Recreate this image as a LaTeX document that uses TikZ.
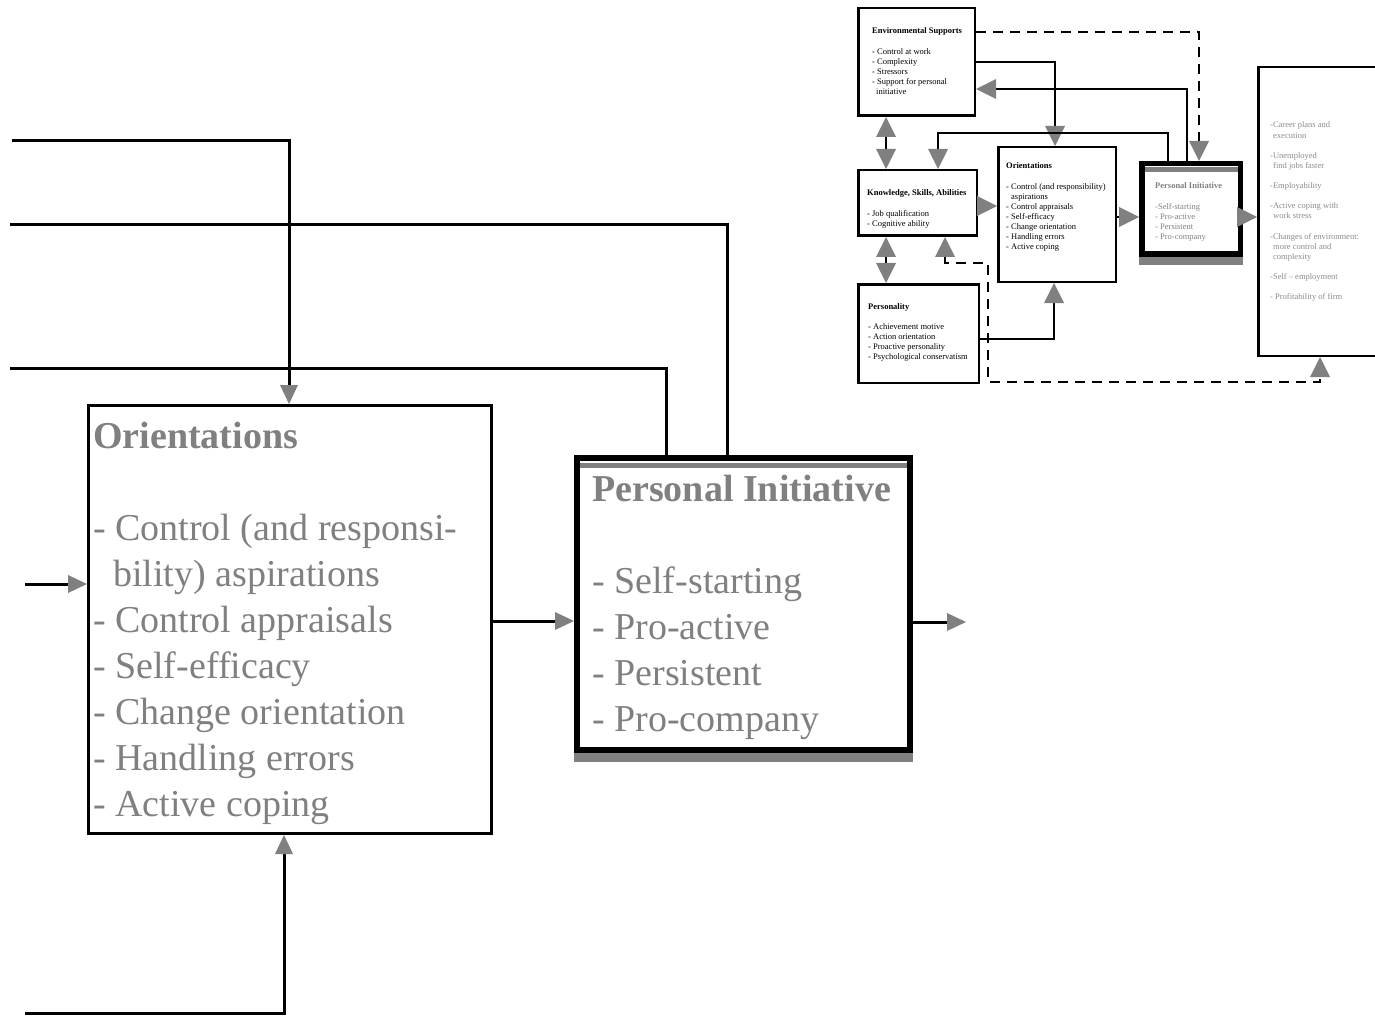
\documentclass[tikz,border=0pt]{standalone}
\usepackage{fontspec}
\setmainfont{Liberation Serif}
\usetikzlibrary{arrows.meta}

\definecolor{tipgray}{RGB}{128,128,128}
\definecolor{txtgray}{RGB}{128,128,128}
\definecolor{lightgray}{RGB}{140,140,140}

% text blocks are placed by the baseline of their last line
\tikzset{
  box/.style={draw=black, inner sep=0pt, anchor=north west},
  bigbox/.style={box, line width=3pt},
  pibox/.style={box, line width=6pt},
  smallbox/.style={box, line width=2.5pt},
  smallpibox/.style={box, line width=5.5pt},
  txt/.style={anchor=base west, align=left, inner sep=0pt},
  bigtxt/.style={txt, text=txtgray, font=\fontsize{38}{46}\selectfont},
  smalltxt/.style={txt, font=\fontsize{8.5}{10.1}\selectfont},
  bigtip/.tip={Triangle[length=19pt, width=18pt, line width=0pt, color=tipgray]},
  smalltip/.tip={Triangle[length=20pt, width=20pt, line width=0pt, color=tipgray]},
  bline/.style={line width=3pt},
  bconn/.style={bline, -bigtip},
  sline/.style={line width=2.5pt},
  sconn/.style={sline, -smalltip},
  sboth/.style={sline, smalltip-smalltip},
  sdash/.style={sline, dash pattern=on 10pt off 7pt},
}

\begin{document}
\begin{tikzpicture}[x=1pt, y=-1pt]
\useasboundingbox (0,0) rectangle (1375,1016);
\clip (0,0) rectangle (1375,1016);
\fill[white] (0,0) rectangle (1375,1016);

% ---------- enlarged part: Orientations and Personal Initiative ----------
\node[bigbox, minimum width=403pt, minimum height=428pt] (ori) at (87,404) {};
\node[bigtxt] (oritxt) at (93,816) {%
  \textbf{Orientations}\\[46pt]
  - Control (and responsi-\\
  \hspace*{20pt}bility) aspirations\\
  - Control appraisals\\
  - Self-efficacy\\
  - Change orientation\\
  - Handling errors\\
  - Active coping};

% shadowed frame of Personal Initiative
\fill[tipgray] (574,750) rectangle (913,762);
\node[pibox, fill=white, minimum width=333pt, minimum height=292pt] (pib) at (574,455) {};
\draw[tipgray, line width=5pt] (580,465.5) -- (907,465.5);
\node[bigtxt] (pibtxt) at (592,731) {%
  \textbf{Personal Initiative}\\[46pt]
  - Self-starting\\
  - Pro-active\\
  - Persistent\\
  - Pro-company};

% incoming and outgoing connectors
\coordinate (in1) at (12,141);
\coordinate (in2) at (10,225);
\coordinate (in3) at (10,368);
\coordinate (in4) at (25,584);
\coordinate (in5) at (25,1013);
\coordinate (outb) at (966,622);

\draw[bconn] (in1) -- (289,141) -- (289,0 |- ori.north);
\draw[bline] (in2) -- (727,225) -- (727,0 |- pib.north);
\draw[bline] (in3) -- (666,368) -- (666,0 |- pib.north);
\draw[bconn] (in4) -- (ori.west |- 0,584);
\draw[bconn] (in5) -- (284,1013) -- (284,0 |- ori.south);
\draw[bconn] (ori.east |- 0,621) -- (pib.west |- 0,621);
\draw[bconn] (pib.east |- 0,622) -- (outb);

% ---------- overview model ----------
\node[smallbox, minimum width=116.5pt, minimum height=107.5pt] (env) at (857,7) {};
\node[smalltxt] (envtxt) at (872,94.6) {%
  \textbf{Environmental Supports}\\[10.1pt]
  - Control at work\\
  - Complexity\\
  - Stressors\\
  - Support for personal\\
  \hspace*{4pt}initiative};

\node[smallbox, minimum width=118.5pt, minimum height=65.5pt] (ksa) at (857,169) {};
\node[smalltxt] (ksatxt) at (867,226.3) {%
  \textbf{Knowledge, Skills, Abilities}\\[10.1pt]
  - Job qualification\\
  - Cognitive ability};

\node[smallbox, minimum width=120.5pt, minimum height=98.5pt] (per) at (857,283) {};
\node[smalltxt] (pertxt) at (868,359.5) {%
  \textbf{Personality}\\[10.1pt]
  - Achievement motive\\
  - Action orientation\\
  - Proactive personality\\
  - Psychological conservatism};

\node[smallbox, minimum width=117.5pt, minimum height=134.5pt] (oris) at (997,146) {};
\node[smalltxt] (oristxt) at (1006,249.8) {%
  \textbf{Orientations}\\[10.1pt]
  - Control (and responsibility)\\
  \hspace*{5pt}aspirations\\
  - Control appraisals\\
  - Self-efficacy\\
  - Change orientation\\
  - Handling errors\\
  - Active coping};

\fill[tipgray] (1139,255) rectangle (1243,265);
\node[smallpibox, fill=white, minimum width=98.5pt, minimum height=90.5pt] (pis) at (1139,161) {};
\draw[tipgray, line width=5pt] (1144.5,169.5) -- (1237.5,169.5);
\node[smalltxt, text=txtgray] (pistxt) at (1155,239.5) {%
  \textbf{Personal Initiative}\\[10.1pt]
  -Self-starting\\
  - Pro-active\\
  - Persistent\\
  - Pro-company};

\node[smallbox, minimum width=140pt, minimum height=288.5pt] (out) at (1257,66) {};
\node[smalltxt, text=lightgray] (outtxt) at (1270,299.7) {%
  -Career plans and\\
  \hspace*{3pt}execution\\[10.1pt]
  -Unemployed\\
  \hspace*{3pt}find jobs faster\\[10.1pt]
  -Employability\\[10.1pt]
  -Active coping with\\
  \hspace*{3pt}work stress\\[10.1pt]
  -Changes of environment:\\
  \hspace*{3pt}more control and\\
  \hspace*{3pt}complexity\\[10.1pt]
  -Self -- employment\\[10.1pt]
  - Profitability of firm};

% overview connectors
\draw[sdash, -smalltip] (env.east |- 0,32) -- (1199,32) -- (1199,0 |- pis.north);
\draw[sconn] (env.east |- 0,62) -- (1055,62) -- (1055,0 |- oris.north);
\draw[sconn] (1187,0 |- pis.north) -- (1187,89) -- (env.east |- 0,89);
\draw[sconn] (1168,0 |- pis.north) -- (1168,133) -- (938,133) -- (938,0 |- ksa.north);
\draw[sboth] (886,0 |- env.south) -- (886,0 |- ksa.north);
\draw[sboth] (886,0 |- ksa.south) -- (886,0 |- per.north);
\draw[sconn] (ksa.east |- 0,206) -- (oris.west |- 0,206);
\draw[sconn] (per.east |- 0,339) -- (1054,339) -- (1054,0 |- oris.south);
\draw[sconn] (oris.east |- 0,217) -- (pis.west |- 0,217);
\draw[sconn] (pis.east |- 0,217) -- (out.west |- 0,217);
\draw[sdash, smalltip-smalltip] (945,0 |- ksa.south) -- (945,263) -- (988,263)
  -- (988,382) -- (1320,382) -- (1320,0 |- out.south);
\end{tikzpicture}
\end{document}
